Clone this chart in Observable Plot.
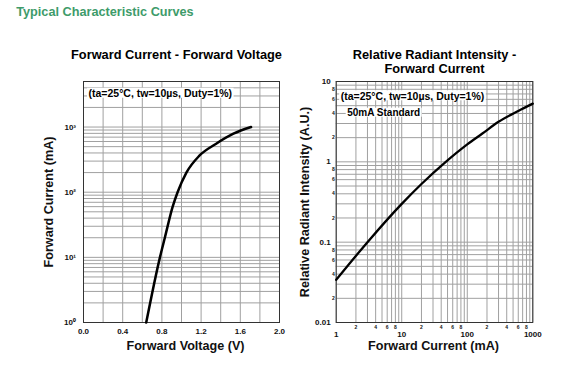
<!DOCTYPE html>
<html><head><meta charset="utf-8">
<script src="https://cdn.jsdelivr.net/npm/d3@7"></script>
<script src="https://cdn.jsdelivr.net/npm/@observablehq/plot@0.6"></script>
<style>
body{margin:0;background:#fff;}
#wrap{position:relative;width:588px;height:384px;overflow:hidden;background:#fff;}
#wrap svg{position:absolute;top:0;}
</style></head><body><div id="wrap"></div>
<script>
const FONT = "'Liberation Sans', Arial, Helvetica, sans-serif";

// ---- Left chart: Forward Current vs Forward Voltage ----
const vfVoltage = [0.64, 0.78, 0.83, 0.91, 0.96, 1.05, 1.18, 1.35, 1.53, 1.71];
const vfCurrent = [1, 10, 20, 60, 100, 200, 360, 550, 790, 1000];
const vfXTicks = [0, 0.4, 0.8, 1.2, 1.6, 2.0];
const vfXTickLabels = ["0.0", "0.4", "0.8", "1.2", "1.6", "2.0"];
const vfYTicks = [1, 10, 100, 1000];
const vfYTickLabels = ["10⁰", "10¹", "10²", "10³"];

// ---- Right chart: Relative Radiant Intensity vs Forward Current ----
const riCurrent = [1, 3, 10, 20, 47, 100, 170, 300, 600, 1000];
const riIntensity = [0.034, 0.10, 0.30, 0.53, 1.0, 1.65, 2.25, 3.15, 4.3, 5.3];
const riXMajorTicks = [1, 10, 100, 1000];
const riXMajorLabels = ["1", "10", "100", "1000"];
const riXMinorTicks = [2, 4, 6, 8, 20, 40, 60, 80, 200, 400, 600, 800];
const riXMinorLabels = ["2", "4", "6", "8", "2", "4", "6", "8", "2", "4", "6", "8"];
const riYMajorTicks = [0.01, 0.1, 1, 10];
const riYMajorLabels = ["0.01", "0.1", "1", "10"];
const riYMinorTicks = [0.02, 0.04, 0.06, 0.08, 0.2, 0.4, 0.6, 0.8, 2, 4, 6, 8];
const riYMinorLabels = ["2", "4", "6", "8", "2", "4", "6", "8", "2", "4", "6", "8"];

const headerText = "Typical Characteristic Curves";
const leftTitle = "Forward Current - Forward Voltage";
const rightTitle = "Relative Radiant Intensity -\nForward Current";
const noteText = "(ta=25°C, tw=10µs, Duty=1%)";
const standardText = "50mA Standard";

const zip = (a, b) => a.map((v, i) => ({v, label: b[i]}));
const GRID = "#a0a0a0";

const left = Plot.plot({
  width: 290, height: 384,
  marginLeft: 83, marginRight: 11, marginTop: 81, marginBottom: 62,
  style: {fontFamily: FONT, background: "transparent", overflow: "visible"},
  x: {domain: [0, 2], axis: null},
  y: {type: "log", domain: [1, 5000], axis: null},
  marks: [
    Plot.gridX({ticks: 10, stroke: GRID, strokeOpacity: 1}),
    Plot.gridY({ticks: 20, stroke: GRID, strokeOpacity: 1}),
    Plot.text([noteText], {text: d => d, frameAnchor: "top-left", lineAnchor: "top", dx: 5, dy: 8.3, fontSize: 10.5, fontWeight: "bold", fill: "#000", className: "note"}),
    Plot.frame({stroke: "#333"}),
    Plot.line(vfVoltage.map((v, i) => ({v, c: vfCurrent[i]})), {x: "v", y: "c", stroke: "#000", strokeWidth: 2.5, curve: "monotone-x"}),
    Plot.text(zip(vfXTicks, vfXTickLabels), {x: "v", text: "label", frameAnchor: "bottom", lineAnchor: "top", dy: 5.6, fontSize: 8, fontWeight: "bold", fill: "#111"}),
    Plot.text(zip(vfYTicks, vfYTickLabels), {y: "v", text: "label", frameAnchor: "left", textAnchor: "end", lineAnchor: "middle", dx: -7.5, fontSize: 8, fontWeight: "bold", fill: "#111"}),
    Plot.text(["Forward Voltage (V)"], {text: d => d, frameAnchor: "bottom", lineAnchor: "top", dx: 4, dy: 19, fontSize: 12.6, fontWeight: "bold", fill: "#111"}),
    Plot.text(["Forward Current (mA)"], {text: d => d, frameAnchor: "left", textAnchor: "middle", lineAnchor: "middle", rotate: -90, dx: -35, fontSize: 12.6, fontWeight: "bold", fill: "#111"}),
    Plot.text([leftTitle], {text: d => d, frameAnchor: "top", lineAnchor: "top", dx: -5, dy: -32, fontSize: 12.8, fontWeight: "bold", fill: "#000"}),
    Plot.text([headerText], {text: d => d, frameAnchor: "top-left", textAnchor: "start", lineAnchor: "top", dx: -67.3, dy: -74.3, fontSize: 12.7, fontWeight: "bold", fill: "#3e9b6a"})
  ]
});
left.style.left = "0px";

const right = Plot.plot({
  width: 298, height: 384,
  marginLeft: 45.7, marginRight: 55.7, marginTop: 81, marginBottom: 62,
  style: {fontFamily: FONT, background: "transparent", overflow: "visible"},
  x: {type: "log", domain: [1, 1000], axis: null},
  y: {type: "log", domain: [0.01, 10], axis: null},
  marks: [
    Plot.gridX({ticks: 20, stroke: GRID, strokeOpacity: 1}),
    Plot.gridY({ticks: 20, stroke: GRID, strokeOpacity: 1}),
    Plot.text([noteText], {text: d => d, frameAnchor: "top-left", lineAnchor: "top", dx: 4.5, dy: 10.8, fontSize: 10.5, fontWeight: "bold", fill: "#000", className: "note"}),
    Plot.text([standardText], {text: d => d, frameAnchor: "top-left", lineAnchor: "top", dx: 11, dy: 27.6, fontSize: 10, fontWeight: "bold", fill: "#000", className: "note"}),
    Plot.frame({stroke: "#333"}),
    Plot.line(riCurrent.map((c, i) => ({c, r: riIntensity[i]})), {x: "c", y: "r", stroke: "#000", strokeWidth: 2.3, curve: "monotone-x"}),
    Plot.text(zip(riXMajorTicks, riXMajorLabels), {x: "v", text: "label", frameAnchor: "bottom", lineAnchor: "top", dy: 8.7, fontSize: 8, fontWeight: "bold", fill: "#111"}),
    Plot.text(zip(riXMinorTicks, riXMinorLabels), {x: "v", text: "label", frameAnchor: "bottom", lineAnchor: "top", dy: 2.5, fontSize: 5, fontWeight: "bold", fill: "#111"}),
    Plot.text(zip(riYMajorTicks, riYMajorLabels), {y: "v", text: "label", frameAnchor: "left", textAnchor: "end", lineAnchor: "middle", dx: -5.5, fontSize: 8, fontWeight: "bold", fill: "#111"}),
    Plot.text(zip(riYMinorTicks, riYMinorLabels), {y: "v", text: "label", frameAnchor: "left", textAnchor: "end", lineAnchor: "middle", dx: -1.5, fontSize: 5, fontWeight: "bold", fill: "#111"}),
    Plot.text(["Forward Current (mA)"], {text: d => d, frameAnchor: "bottom", lineAnchor: "top", dx: -1, dy: 19, fontSize: 12.6, fontWeight: "bold", fill: "#111"}),
    Plot.text(["Relative Radiant Intensity (A.U.)"], {text: d => d, frameAnchor: "left", textAnchor: "middle", lineAnchor: "middle", rotate: -90, dx: -31.5, fontSize: 12.6, fontWeight: "bold", fill: "#111"}),
    Plot.text([rightTitle], {text: d => d, frameAnchor: "top", lineAnchor: "top", lineHeight: 1.1, dx: 0, dy: -32.5, fontSize: 12.8, fontWeight: "bold", fill: "#000"})
  ]
});
right.style.left = "290px";

const wrap = document.getElementById("wrap");
wrap.appendChild(left);
wrap.appendChild(right);

// white boxes behind the condition notes
document.querySelectorAll("#wrap .note text").forEach(t => {
  const b = t.getBBox();
  const r = document.createElementNS("http://www.w3.org/2000/svg", "rect");
  r.setAttribute("x", b.x - 1.5);
  r.setAttribute("y", b.y + 0.5);
  r.setAttribute("width", b.width + 3);
  r.setAttribute("height", b.height - 2);
  r.setAttribute("fill", "#fff");
  const tr = t.getAttribute("transform");
  if (tr) r.setAttribute("transform", tr);
  t.parentNode.insertBefore(r, t);
});
</script></body></html>
